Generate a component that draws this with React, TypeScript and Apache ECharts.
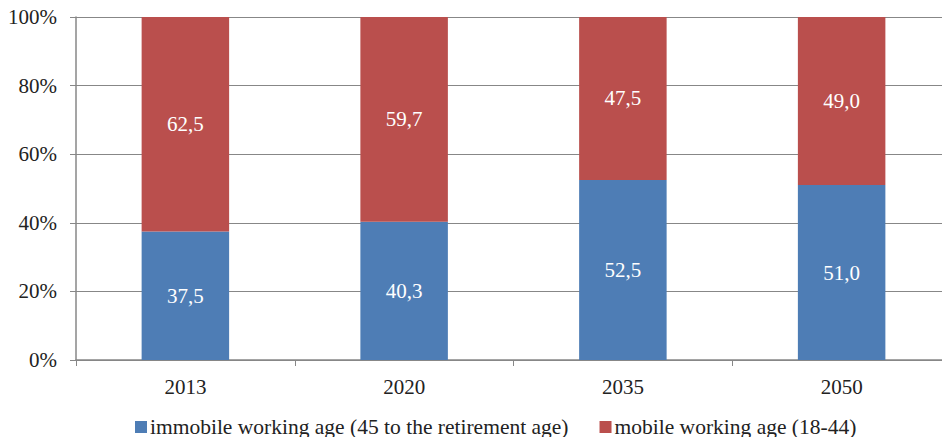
import React, { useEffect, useRef } from "react";
import * as echarts from "echarts";

const categories = ["2013", "2020", "2035", "2050"];
const immobile = [37.5, 40.3, 52.5, 51.0];
const mobile = [62.5, 59.7, 47.5, 49.0];
const seriesNames = [
  "immobile working age (45 to the retirement age)",
  "mobile working age (18-44)",
];

const FONT = "Liberation Serif, Times New Roman, serif";

export default function App() {
  const ref = useRef<HTMLDivElement>(null);
  useEffect(() => {
    if (!ref.current) return;
    const chart = echarts.init(ref.current, undefined, { renderer: "svg" });
    const labelFmt = (p: any) => Number(p.value).toFixed(1).replace(".", ",");
    chart.setOption({
      animation: false,
      textStyle: { fontFamily: FONT },
      grid: { left: 76, top: 17, width: 875, height: 343, containLabel: false },
      legend: {
        top: 416,
        left: 135,
        padding: 0,
        itemWidth: 12,
        itemHeight: 12,
        itemGap: 31,
        icon: "rect",
        textStyle: { fontFamily: FONT, fontSize: 21.5, color: "#222", padding: [0, 0, 0, -2] },
        data: seriesNames,
      },
      xAxis: {
        type: "category",
        data: categories,
        axisLine: { lineStyle: { color: "#878787", width: 1.5 } },
        axisTick: { show: true, length: 6, lineStyle: { color: "#878787" } },
        axisLabel: { fontFamily: FONT, fontSize: 21, color: "#222", margin: 16 },
      },
      yAxis: {
        type: "value",
        min: 0,
        max: 100,
        interval: 20,
        axisLine: { show: true, lineStyle: { color: "#878787", width: 1.5 } },
        axisTick: { show: true, length: 6, lineStyle: { color: "#878787" } },
        splitLine: { lineStyle: { color: "#878787", width: 1 } },
        axisLabel: {
          fontFamily: FONT,
          fontSize: 21,
          color: "#222",
          margin: 19,
          formatter: "{value}%",
        },
      },
      series: [
        {
          name: seriesNames[0],
          type: "bar",
          stack: "total",
          barWidth: "40%",
          data: immobile,
          itemStyle: { color: "#4E7DB5" },
          label: {
            show: true,
            position: "inside",
            color: "#fff",
            fontFamily: FONT,
            fontSize: 21,
            formatter: labelFmt,
          },
        },
        {
          name: seriesNames[1],
          type: "bar",
          stack: "total",
          barWidth: "40%",
          data: mobile,
          itemStyle: { color: "#BA4F4D" },
          label: {
            show: true,
            position: "inside",
            color: "#fff",
            fontFamily: FONT,
            fontSize: 21,
            formatter: labelFmt,
          },
        },
      ],
    });
    return () => chart.dispose();
  }, []);
  return (
    <div style={{ width: 942, height: 437, position: "absolute", left: 0, top: 0, overflow: "hidden" }}>
      <div ref={ref} style={{ width: 960, height: 437 }} />
    </div>
  );
}
